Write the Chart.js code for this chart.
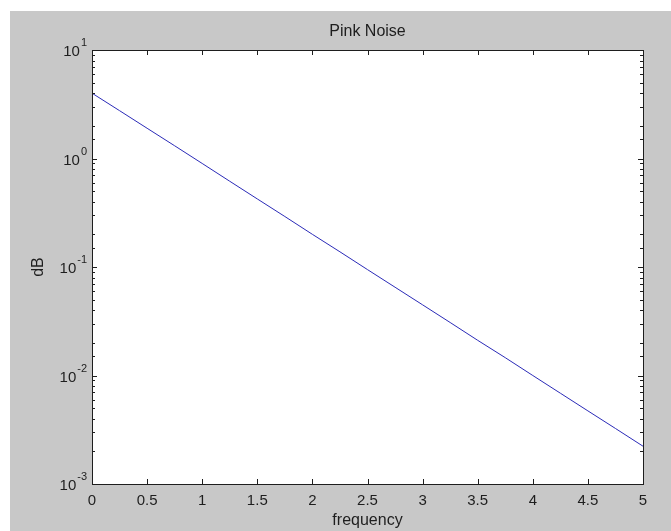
<!DOCTYPE html>
<html>
<head>
<meta charset="utf-8">
<script src="https://cdn.jsdelivr.net/npm/chart.js@4/dist/chart.umd.min.js"></script>
<style>
  html, body { margin: 0; padding: 0; background: #ffffff; }
  #wrap { position: absolute; left: 10px; top: 11px; width: 661px; height: 520px; background: #c8c8c8; }
  canvas { display: block; }
</style>
</head>
<body>
<div id="wrap"><canvas id="c" width="661" height="520"></canvas></div>
<script>
// ---- data ----
const frequency = [0, 0.25, 0.5, 0.75, 1, 1.25, 1.5, 1.75, 2, 2.25, 2.5, 2.75, 3, 3.25, 3.5, 3.75, 4, 4.25, 4.5, 4.75, 5];
const powerDB = [4.0, 2.76, 1.90, 1.31, 0.90, 0.617, 0.424, 0.292, 0.200, 0.138, 0.0946, 0.0651, 0.0448, 0.0308, 0.0211, 0.0146, 0.0100, 0.00687, 0.00472, 0.00325, 0.00223];
const xTickValues = [0, 0.5, 1, 1.5, 2, 2.5, 3, 3.5, 4, 4.5, 5];
const xTickLabels = ['0', '0.5', '1', '1.5', '2', '2.5', '3', '3.5', '4', '4.5', '5'];
const yDecadeBase = '10';
const yDecadeExponents = ['1', '0', '-1', '-2', '-3'];
const chartTitle = 'Pink Noise';
const xTitle = 'frequency';
const yTitle = 'dB';

const points = frequency.map((f, i) => ({ x: f, y: powerDB[i] }));
const FONT = "'Liberation Sans', Arial, sans-serif";
const INK = '#1e1e1e';

const boxPlugin = {
  id: 'matlabBox',
  beforeDraw(chart) {
    const { ctx, chartArea: a } = chart;
    ctx.save();
    ctx.fillStyle = '#ffffff';
    ctx.fillRect(a.left, a.top, a.right - a.left, a.bottom - a.top);
    ctx.restore();
  },
  afterDraw(chart) {
    const { ctx, chartArea: a, scales } = chart;
    ctx.save();
    ctx.strokeStyle = INK;
    ctx.lineWidth = 1;
    ctx.beginPath();
    scales.x.ticks.forEach(t => {
      const px = Math.round(scales.x.getPixelForValue(t.value)) + 0.5;
      ctx.moveTo(px, a.bottom); ctx.lineTo(px, a.bottom - 5);
      ctx.moveTo(px, a.top); ctx.lineTo(px, a.top + 5);
    });
    scales.y.ticks.forEach(t => {
      const py = Math.round(scales.y.getPixelForValue(t.value)) + 0.5;
      const lg = Math.log10(t.value);
      const major = Math.abs(lg - Math.round(lg)) < 1e-9;
      const len = major ? 5 : 3;
      ctx.moveTo(a.left, py); ctx.lineTo(a.left + len, py);
      ctx.moveTo(a.right, py); ctx.lineTo(a.right - len, py);
    });
    ctx.stroke();
    ctx.strokeRect(Math.round(a.left) + 0.5, Math.round(a.top) + 0.5,
                   Math.round(a.right - a.left), Math.round(a.bottom - a.top));

    // decade labels 10^n with raised exponent
    ctx.fillStyle = INK;
    ctx.textBaseline = 'middle';
    const right = a.left - 5;
    scales.y.ticks.forEach(t => {
      const lg = Math.round(Math.log10(t.value));
      const exp = String(lg);
      if (!yDecadeExponents.includes(exp)) return;
      if (Math.abs(Math.log10(t.value) - lg) > 1e-9) return;
      const py = scales.y.getPixelForValue(t.value);
      ctx.font = '11px ' + FONT;
      const we = ctx.measureText(exp).width;
      ctx.textAlign = 'left';
      ctx.fillText(exp, right - we, py - 7);
      ctx.font = '15px ' + FONT;
      ctx.textAlign = 'right';
      ctx.fillText(yDecadeBase, right - we - 1, py + 2);
    });
    ctx.restore();
  }
};

new Chart(document.getElementById('c'), {
  type: 'line',
  data: {
    datasets: [{
      data: points,
      borderColor: '#2b2bb8',
      borderWidth: 1,
      pointRadius: 0,
      tension: 0,
      fill: false
    }]
  },
  options: {
    responsive: false,
    animation: false,
    events: [],
    layout: { padding: { left: 0, right: 28, top: 0, bottom: 0 } },
    plugins: {
      legend: { display: false },
      tooltip: { enabled: false },
      title: { display: false }
    },
    scales: {
      x: {
        type: 'linear',
        min: 0,
        max: 5,
        afterBuildTicks: (s) => { s.ticks = xTickValues.map(v => ({ value: v })); },
        afterFit: (s) => { s.height = 47; },
        grid: { display: false, drawTicks: false },
        border: { display: false },
        ticks: {
          color: INK,
          font: { family: FONT, size: 15 },
          padding: 8,
          maxRotation: 0,
          autoSkip: false,
          callback: (v) => {
            const i = xTickValues.indexOf(v);
            return i >= 0 ? xTickLabels[i] : '';
          }
        },
        title: {
          display: true,
          text: xTitle,
          color: INK,
          font: { family: FONT, size: 16 },
          padding: { top: 0, bottom: 0.5 }
        }
      },
      xTop: {
        type: 'linear',
        position: 'top',
        min: 0,
        max: 5,
        afterFit: (s) => { s.height = 39; },
        grid: { display: false, drawTicks: false },
        border: { display: false },
        ticks: { display: false },
        title: {
          display: true,
          text: chartTitle,
          color: INK,
          font: { family: FONT, size: 16 },
          padding: { top: 11.4, bottom: 0 }
        }
      },
      y: {
        type: 'logarithmic',
        min: 0.001,
        max: 10,
        afterFit: (s) => { s.width = 82; },
        grid: { display: false, drawTicks: false },
        border: { display: false },
        ticks: { display: false, autoSkip: false },
        title: {
          display: true,
          text: yTitle,
          color: INK,
          font: { family: FONT, size: 16 },
          padding: { top: 19.4, bottom: 0 }
        }
      }
    }
  },
  plugins: [boxPlugin]
});
</script>
</body>
</html>
